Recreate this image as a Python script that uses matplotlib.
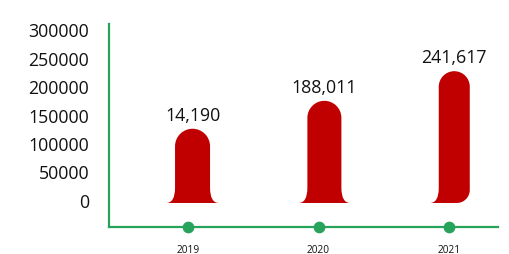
import numpy as np
import matplotlib
matplotlib.use("Agg")
import matplotlib.pyplot as plt
from matplotlib.path import Path
from matplotlib.patches import PathPatch

plt.rcParams['font.family'] = ['Open Sans', 'DejaVu Sans']

# data
years = ['2019', '2020', '2021']
bar_heights = [125000, 174000, 226000]   # drawn height of each bar
label_values = [14190, 188011, 241617]   # numbers printed above the bars
y_ticks = [0, 50000, 100000, 150000, 200000, 250000, 300000]

RED = '#c00000'
GREEN = '#27a35b'

W, H = 509, 255
fig = plt.figure(figsize=(W / 100, H / 100), dpi=100)
# axes box in pixels: left spine x=109, bottom spine y=228, top y=25, right x=498
ax = fig.add_axes([109 / W, (H - 228) / H, (498 - 109) / W, (228 - 25) / H])
ax.set_xlim(-0.605, 2.375)
ax.set_ylim(-47400, 308800)

# pixel per data unit (for round shapes)
px_x = 130.5
px_y = 171 / 300000.0
base = -3 / px_y   # bars sit a few pixels under the zero line

def bar_path(cx, h, half_w_px, flare_px, flare_h_px, right_corner=False):
    hw = half_w_px / px_x
    f = flare_px / px_x
    fh = base + flare_h_px / px_y
    ry = half_w_px / px_y
    k = 0.5523
    L, R = cx - hw, cx + hw
    verts = [(L - f, base), (L, base), (L, fh),            # left flare (quad)
             (L, h - ry),
             (L, h - ry + k * ry), (cx - k * hw, h), (cx, h),   # top arc
             (cx + k * hw, h), (R, h - ry + k * ry), (R, h - ry)]
    codes = [Path.MOVETO, Path.CURVE3, Path.CURVE3, Path.LINETO,
             Path.CURVE4, Path.CURVE4, Path.CURVE4,
             Path.CURVE4, Path.CURVE4, Path.CURVE4]
    if right_corner:
        cr = 13
        crx, cry = cr / px_x, cr / px_y
        verts += [(R, base + cry), (R, base + cry - k * cry),
                  (R - crx + k * crx, base), (R - crx, base)]
        codes += [Path.LINETO, Path.CURVE4, Path.CURVE4, Path.CURVE4]
    else:
        verts += [(R, fh), (R, base), (R + f, base)]
        codes += [Path.LINETO, Path.CURVE3, Path.CURVE3]
    verts.append((L - f, base))
    codes.append(Path.CLOSEPOLY)
    return Path(verts, codes)

x = np.arange(len(years))
offsets = [0.035, 0.045, 0.04]
half_widths = [17.5, 17, 15.5]
for i, h in enumerate(bar_heights):
    cx = x[i] + offsets[i]
    p = bar_path(cx, h, half_widths[i], 9, 15, right_corner=(i == 2))
    ax.add_patch(PathPatch(p, facecolor=RED, edgecolor='none'))
    ax.text(cx, h + 5 / px_y, f"{label_values[i]:,}", ha='center', va='bottom',
            fontsize=12.8, color='#111111')

ax.scatter(x, [ax.get_ylim()[0]] * len(x), s=55, color=GREEN, zorder=5, clip_on=False)

for s in ['top', 'right']:
    ax.spines[s].set_visible(False)
for s in ['left', 'bottom']:
    ax.spines[s].set_color(GREEN)
    ax.spines[s].set_linewidth(1.6)

ax.set_yticks(y_ticks)
ax.set_yticklabels([str(v) for v in y_ticks], fontsize=12.8, color='#111111')
ax.set_xticks(x)
ax.set_xticklabels(years, fontsize=7.3, color='#111111')
ax.tick_params(axis='y', length=0, pad=14.4)
ax.tick_params(axis='x', length=0, pad=12)

fig.savefig('out.png', dpi=100)
